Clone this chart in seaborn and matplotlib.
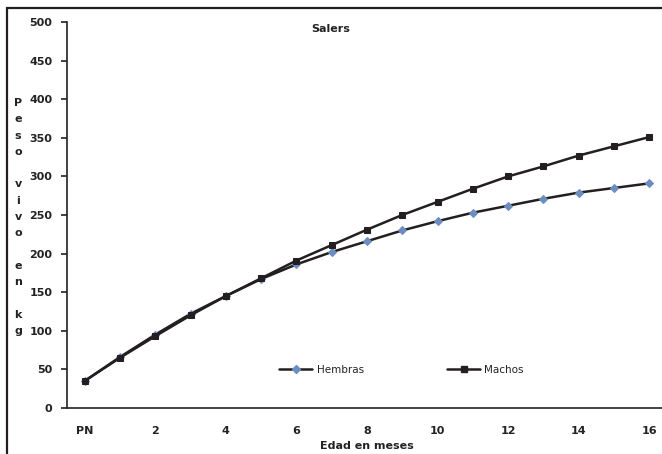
import matplotlib
matplotlib.use("Agg")
import matplotlib.pyplot as plt
import seaborn as sns
import pandas as pd
from matplotlib.lines import Line2D
from matplotlib.patches import Rectangle

categories = ["PN", "1", "2", "3", "4", "5", "6", "7", "8", "9", "10", "11", "12", "13", "14", "15", "16"]
hembras = [35, 66, 95, 122, 145, 167, 186, 202, 216, 230, 242, 253, 262, 271, 279, 285, 291]
machos = [35, 65, 93, 120, 145, 168, 191, 211, 231, 250, 267, 284, 300, 313, 327, 339, 351]
tick_labels = ["PN", "", "2", "", "4", "", "6", "", "8", "", "10", "", "12", "", "14", "", "16"]

sns.set_theme(style="white")
plt.rcParams['font.family'] = ['DejaVu Sans']

df = pd.DataFrame({
    "idx": list(range(len(categories))) * 2,
    "peso": hembras + machos,
    "serie": ["Hembras"] * len(categories) + ["Machos"] * len(categories),
})

W, H = 662, 454
fig = plt.figure(figsize=(W / 100, H / 100), dpi=100)
ax = fig.add_axes([67/W, 1 - 408/H, (667 - 67)/W, (408 - 22)/H])

line_col = "#231f20"
txt_col = "#222222"
hem_col = "#6c8ebf"
sns.lineplot(data=df[df.serie == "Hembras"], x="idx", y="peso", ax=ax, color=line_col,
             linewidth=1.8, marker="D", markersize=4.5, markerfacecolor=hem_col,
             markeredgecolor=hem_col, legend=False)
sns.lineplot(data=df[df.serie == "Machos"], x="idx", y="peso", ax=ax, color=line_col,
             linewidth=1.8, marker="s", markersize=5.0, markerfacecolor=line_col,
             markeredgecolor=line_col, legend=False)

ax.set_xlim(-0.5, 16.5)
ax.set_ylim(0, 500)
ax.set_yticks(range(0, 501, 50))
ax.set_yticklabels([str(v) for v in range(0, 501, 50)], fontsize=8, fontweight="bold", color=txt_col)
ax.set_xticks(range(len(categories)))
ax.set_xticklabels(tick_labels, fontsize=8, fontweight="bold", color=txt_col)
ax.set_xticks([i + 0.5 for i in range(-1, len(categories))], minor=True)
ax.tick_params(axis="x", which="major", length=0, pad=13)
ax.tick_params(axis="x", which="minor", length=4, width=1.2, color=txt_col, direction="out")
ax.tick_params(axis="y", which="major", length=4, width=1.2, color=txt_col, direction="out", pad=6.5, left=True)
for s in ["top", "right"]:
    ax.spines[s].set_visible(False)
for s in ["left", "bottom"]:
    ax.spines[s].set_color(txt_col)
    ax.spines[s].set_linewidth(1.2)
ax.grid(False)
ax.set_xlabel("Edad en meses", fontsize=8, fontweight="bold", labelpad=3.5, color=txt_col)
ax.set_ylabel("")
ax.set_title("Salers", fontsize=8, fontweight="bold", y=0.952, x=0.44, color=txt_col)

# stacked y label, one letter per line
ylab = "Peso vivo en kg"
for i, ch in enumerate(ylab):
    if ch != " ":
        fig.text(18/W, 1 - (106 + i * 16.3)/H, ch, ha="center", va="baseline",
                 fontsize=8, fontweight="bold", color=txt_col)

handles = [
    Line2D([0], [0], color=line_col, lw=1.8, marker="D", markersize=4.5,
           markerfacecolor=hem_col, markeredgecolor=hem_col),
    Line2D([0], [0], color=line_col, lw=1.8, marker="s", markersize=5.0,
           markerfacecolor=line_col, markeredgecolor=line_col),
]
ax.legend(handles, ["Hembras", "Machos"], ncol=2, frameon=False, fontsize=7.5,
          loc="center left", bbox_to_anchor=((279 - 67) / 600, (408 - 370) / 386),
          borderpad=0, borderaxespad=0, columnspacing=8.0,
          handlelength=3.2, handletextpad=0.4, labelcolor=txt_col)

# outer frame
fig.patches.append(Rectangle((7/W, -0.1), 1.0, 1 - 8/H + 0.1, transform=fig.transFigure,
                             fill=False, edgecolor=line_col, linewidth=1.6, clip_on=False))

fig.savefig("out.png", dpi=100)
